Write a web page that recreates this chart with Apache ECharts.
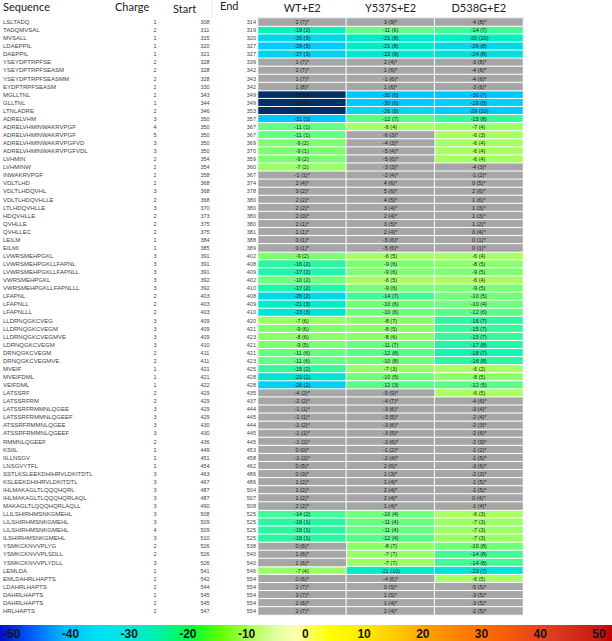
<!DOCTYPE html>
<html><head><meta charset="utf-8">
<script src="https://cdn.jsdelivr.net/npm/echarts@6/dist/echarts.min.js"></script>
<style>html,body{margin:0;padding:0;background:#fff}#c{width:612px;height:641px}</style>
</head><body><div id="c"></div>
<script>
const columns = ['WT+E2', 'Y537S+E2', 'D538G+E2'];
const sequences = ["LSLTADQ","TADQMVSAL","MVSALL","LDAEPPIL","DAEPPIL","YSEYDPTRPFSE","YSEYDPTRPFSEASM","YSEYDPTRPFSEASMM","EYDPTRPFSEASM","MGLLTNL",
"GLLTNL","LTNLADRE","ADRELVHM","ADRELVHMINWAKRVPGF","ADRELVHMINWAKRVPGF","ADRELVHMINWAKRVPGFVD","ADRELVHMINWAKRVPGFVDL","LVHMIN","LVHMINW","INWAKRVPGF",
"VDLTLHD","VDLTLHDQVHL","VDLTLHDQVHLLE","LTLHDQVHLLE","HDQVHLLE","QVHLLE","QVHLLEC","LEILM","EILMI","LVWRSMEHPGKL",
"LVWRSMEHPGKLLFAPNL","LVWRSMEHPGKLLFAPNLL","VWRSMEHPGKL","VWRSMEHPGKLLFAPNLLL","LFAPNL","LFAPNLL","LFAPNLLL","LLDRNQGKCVEG","LLDRNQGKCVEGM","LLDRNQGKCVEGMVE",
"LDRNQGKCVEGM","DRNQGKCVEGM","DRNQGKCVEGMVE","MVEIF","MVEIFDML","VEIFDML","LATSSRF","LATSSRFRM","LATSSRFRMMNLQGEE","LATSSRFRMMNLQGEEF",
"ATSSRFRMMNLQGEE","ATSSRFRMMNLQGEEF","RMMNLQGEEF","KSIIL","IILLNSGV","LNSGVYTFL","SSTLKSLEEKDHIHRVLDKITDTL","KSLEEKDHIHRVLDKITDTL","IHLMAKAGLTLQQQHQRL","IHLMAKAGLTLQQQHQRLAQL",
"MAKAGLTLQQQHQRLAQLL","LLILSHIRHMSNKGMEHL","LILSHIRHMSNKGMEHL","LILSHIRHMSNKGMEHL","ILSHIRHMSNKGMEHL","YSMKCKNVVPLYG","YSMKCKNVVPLSDLL","YSMKCKNVVPLYDLL","LEMLDA","EMLDAHRLHAPTS",
"LDAHRLHAPTS","DAHRLHAPTS","DAHRLHAPTS","HRLHAPTS"];
const charges = [1,2,1,1,1,2,2,2,2,2, 1,2,3,4,5,3,3,2,2,2, 2,3,2,3,2,2,2,1,1,3, 3,3,3,3,2,2,2,3,3,3, 3,2,2,1,1,1,2,2,3,3, 3,3,2,1,1,1,3,3,3,3, 3,3,3,4,3,2,2,3,1,2, 2,1,2,2];
const starts = [308,311,315,320,321,328,328,328,330,343, 344,346,350,350,350,350,350,354,354,358, 368,368,368,370,373,375,375,384,385,391, 391,391,392,392,403,403,403,409,409,409, 410,411,411,421,421,422,429,429,429,429, 430,430,436,449,451,454,463,467,487,487, 490,508,509,509,510,526,526,526,541,542, 544,545,545,547];
const ends = [314,319,320,327,327,339,342,343,342,349, 349,353,357,367,367,369,370,359,360,367, 374,378,380,380,380,380,381,388,389,402, 408,409,402,410,408,409,410,420,421,423, 421,421,423,425,428,428,435,437,444,445, 444,445,445,453,458,462,486,486,504,507, 508,525,525,525,525,538,540,540,546,554, 554,554,554,554];

const wtDelta = [2,-19,-26,-29,-27,1,2,1,1,-65, -65,-65,-31,-11,-11,-9,-9,-9,-7,-1, 2,3,2,2,2,2,1,0,0,-9, -16,-17,-10,-17,-26,-21,-23,-7,-9,-8, -9,-11,-11,-15,-23,-28,-4,-2,-1,-1, -1,-1,-1,0,-1,0,0,1,1,1, 2,-14,-16,-16,-16,0,1,1,-7,0, 2,3,2,2];
const wtSd = [7,2,3,3,3,7,7,7,8,3, 4,3,3,1,1,2,1,2,2,1, 4,2,2,2,0,1,1,1,1,2, 2,2,2,2,2,3,3,6,6,6, 5,6,6,2,2,2,2,2,1,1, 2,1,2,0,2,5,3,2,2,2, 2,2,1,1,1,6,6,6,4,6, 7,7,6,7];
const wtStar = [1,0,0,0,0,1,1,1,1,0, 0,0,0,0,0,0,0,0,0,1, 1,1,1,1,1,1,1,1,1,0, 0,0,0,0,0,0,0,0,0,0, 0,0,0,0,0,0,1,1,1,1, 1,1,1,1,1,1,1,1,1,1, 1,0,0,0,0,1,1,1,0,1, 1,1,1,1];

const yDelta = [3,-11,-21,-21,-22,2,1,-1,1,-30, -30,-26,-12,-6,-6,-4,-5,-5,-3,-2, 4,5,4,3,2,3,2,-5,-5,-6, -9,-9,-6,-9,-14,-10,-10,-8,-8,-8, -11,-12,-10,-7,-10,-12,-5,-4,-3,-3, -3,-3,-3,-1,-2,2,1,1,2,2, 1,-10,-11,-11,-12,-8,-7,-7,-21,-4, 0,1,1,2];
const ySd = [9,6,8,8,9,4,6,6,6,6, 6,8,7,4,3,3,4,6,3,4, 6,6,5,4,4,5,4,6,6,5, 6,6,5,6,7,6,6,7,5,6, 7,8,8,3,5,3,9,7,6,5, 6,5,6,2,4,6,3,4,4,4, 4,4,4,4,4,7,7,7,10,6, 5,5,4,4];
const yStar = [1,0,0,0,0,1,1,1,1,0, 0,0,0,0,1,1,1,1,1,1, 1,1,1,1,1,1,1,1,1,0, 0,0,0,0,0,0,0,0,0,0, 0,0,0,0,0,0,1,1,1,1, 1,1,1,1,1,1,1,1,1,1, 1,0,0,0,0,0,0,0,0,1, 1,1,1,1];

const dDelta = [-4,-14,-20,-26,-24,-3,-4,-4,-3,-30, -28,-29,-15,-7,-6,-6,-6,-6,-4,-1, 0,2,1,1,1,1,0,0,0,-6, -8,-9,-6,-9,-10,-10,-12,-16,-15,-15, -17,-18,-16,-6,-8,-12,-6,-4,-3,-2, -2,-2,-2,-1,-1,-3,-2,-1,-1,0, -1,-6,-7,-7,-7,-10,-14,-14,-23,-6, -5,-3,-3,-2];
const dSd = [8,7,10,8,8,8,6,6,6,7, 8,10,8,4,3,4,4,4,3,2, 5,6,6,3,3,2,4,1,1,4, 5,5,4,5,5,4,6,7,7,7, 8,7,8,2,5,5,5,6,4,4, 3,6,9,2,5,6,3,5,5,4, 4,3,3,3,3,8,8,8,7,5, 5,5,5,5];
const dStar = [1,0,0,0,0,1,1,1,1,0, 0,0,0,0,0,0,0,0,1,1, 1,1,1,1,1,1,1,1,1,0, 0,0,0,0,0,0,0,0,0,0, 0,0,0,0,0,0,0,1,1,1, 1,1,1,1,1,1,1,1,1,1, 1,0,0,0,0,0,0,0,0,0, 1,1,1,1];

const scaleTicks = [-50,-40,-30,-20,-10,0,10,20,30,40,50];

const rowIds = sequences.map((s, i) => String(i));
const groups = [[wtDelta, wtSd, wtStar], [yDelta, ySd, yStar], [dDelta, dSd, dStar]];
const sigData = [], nsData = [];
groups.forEach(([d, s, st], c) => {
  d.forEach((v, i) => {
    const item = { value: [c, i, v], txt: v + ' (' + s[i] + ')' + (st[i] ? '*' : '') };
    (st[i] ? nsData : sigData).push(item);
  });
});

const NARROW = "'Liberation Sans Narrow', 'Liberation Sans', Arial, sans-serif";
const HEAD = "Lato, 'Liberation Sans', sans-serif";
const cellLabel = { show: true, formatter: p => p.data.txt, fontSize: 5.5, color: '#1e1e1e', fontFamily: NARROW };

function leftAxis(offset, align, fmt, size) {
  return {
    type: 'category', gridIndex: 0, inverse: true, data: rowIds, position: 'left', offset: offset,
    axisLine: { show: false }, axisTick: { show: false }, splitLine: { show: false },
    axisLabel: { interval: 0, margin: 0, align: align, formatter: fmt, fontSize: size, color: '#444444', fontFamily: NARROW }
  };
}

const chart = echarts.init(document.getElementById('c'), null, { renderer: 'svg' });
chart.setOption({
  animation: false,
  backgroundColor: '#fff',
  grid: [
    { left: 258, right: 89, top: 18, bottom: 26 },
    { left: 8, right: 13, top: 625, height: 16 }
  ],
  xAxis: [
    { type: 'category', gridIndex: 0, data: columns, position: 'top',
      axisLine: { show: true, lineStyle: { color: '#bdbdbd', width: 2 } }, axisTick: { show: false },
      axisLabel: { margin: 5, fontSize: 11, color: '#222', fontFamily: HEAD }, splitLine: { show: false } },
    { type: 'value', gridIndex: 1, min: scaleTicks[0], max: scaleTicks[scaleTicks.length - 1], interval: 10, z: 5,
      axisLine: { show: false }, axisTick: { show: false }, splitLine: { show: false },
      axisLabel: { inside: true, margin: 1, fontSize: 12, fontWeight: 'bold', color: '#151515', fontFamily: NARROW,
        showMinLabel: true, showMaxLabel: true } }
  ],
  yAxis: [
    leftAxis(255, 'left', (v, i) => sequences[i], 6),
    leftAxis(103, 'center', (v, i) => String(charges[i]), 5.5),
    leftAxis(53, 'center', (v, i) => String(starts[i]), 5.5),
    leftAxis(2, 'right', (v, i) => String(ends[i]), 5.5),
    { type: 'value', gridIndex: 1, show: false, min: 0, max: 1 }
  ],
  visualMap: {
    type: 'continuous', show: false, seriesIndex: 0, dimension: 2, min: -70, max: 50,
    inRange: { color: ['#00254f', '#003a7a', '#0060d8', '#00a8ff', '#00c8ff', '#00f0c0', '#70ff78',
      '#ffff40', '#ffe000', '#ffa000', '#ff7000', '#e04010', '#c00000'] }
  },
  graphic: [
    { type: 'rect', z: 0, shape: { x: 0, y: 625, width: 612, height: 16 },
      style: { fill: { type: 'linear', x: 0, y: 0, x2: 1, y2: 0, colorStops: [
        { offset: 0, color: '#0010c8' }, { offset: 0.05, color: '#0058ff' }, { offset: 0.085, color: '#0098ff' },
        { offset: 0.11, color: '#00c0ff' }, { offset: 0.16, color: '#00e0f0' }, { offset: 0.21, color: '#00e8e0' },
        { offset: 0.26, color: '#00f0a8' }, { offset: 0.31, color: '#00ff40' }, { offset: 0.36, color: '#60ff00' },
        { offset: 0.405, color: '#a8ff50' }, { offset: 0.45, color: '#e0ffa0' }, { offset: 0.485, color: '#ffffb0' },
        { offset: 0.5, color: '#ffff70' }, { offset: 0.54, color: '#ffff00' }, { offset: 0.6, color: '#ffe800' },
        { offset: 0.65, color: '#ffc800' }, { offset: 0.7, color: '#ffa000' }, { offset: 0.75, color: '#ff8000' },
        { offset: 0.8, color: '#ff6a00' }, { offset: 0.85, color: '#f05010' }, { offset: 0.895, color: '#e04020' },
        { offset: 0.98, color: '#c81810' }, { offset: 1, color: '#c00000' } ] } } },
    { type: 'line', shape: { x1: 212, y1: 0, x2: 212, y2: 18 }, style: { stroke: '#ececec', lineWidth: 1 } },
    { type: 'text', left: 3, top: 1, style: { text: 'Sequence', fontSize: 11, fill: '#222', fontFamily: HEAD } },
    { type: 'text', left: 115, top: 1, style: { text: 'Charge', fontSize: 11, fill: '#222', fontFamily: HEAD } },
    { type: 'text', left: 173, top: 3, style: { text: 'Start', fontSize: 11, fill: '#222', fontFamily: HEAD } },
    { type: 'text', left: 220, top: 0, style: { text: 'End', fontSize: 11, fill: '#222', fontFamily: HEAD } }
  ],
  series: [
    { type: 'heatmap', xAxisIndex: 0, yAxisIndex: 0, data: sigData, label: cellLabel,
      itemStyle: { borderColor: '#fff', borderWidth: 1 }, emphasis: { disabled: true } },
    { type: 'heatmap', xAxisIndex: 0, yAxisIndex: 0, data: nsData, label: cellLabel,
      itemStyle: { color: '#a6a6a6', borderColor: '#fff', borderWidth: 1 }, emphasis: { disabled: true } }
  ]
});
</script>
</body></html>
